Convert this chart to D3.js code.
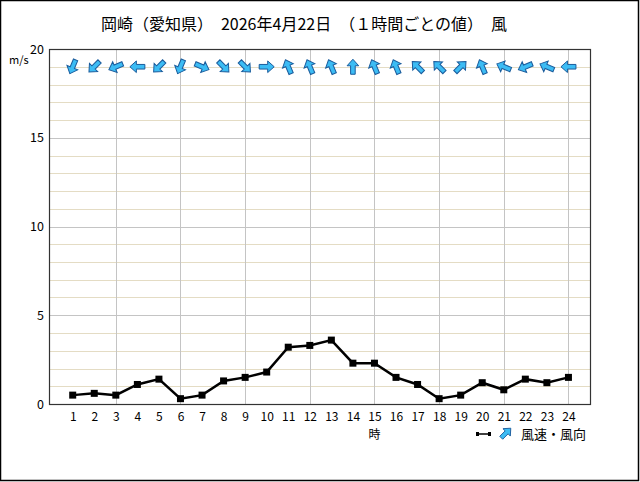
<!DOCTYPE html>
<html>
<head>
<meta charset="utf-8">
<script src="https://cdn.jsdelivr.net/npm/d3@7"></script>
<style>
  body { margin: 0; background: #fff; }
  text { font-family: "Noto Sans CJK JP", "DejaVu Sans", sans-serif; }
</style>
</head>
<body>
<div id="chart"></div>
<script>
// hourly values, Okazaki 2026-04-22
var hours = d3.range(1, 25);
var speed = [0.5, 0.6, 0.5, 1.1, 1.4, 0.3, 0.5, 1.3, 1.5, 1.8, 3.2, 3.3,
             3.6, 2.3, 2.3, 1.5, 1.1, 0.3, 0.5, 1.2, 0.8, 1.4, 1.2, 1.5];
// wind direction (where the wind comes from)
var windDir = ["北北東", "北東", "東北東", "東", "北東", "北北東", "西北西", "北西",
               "北西", "西", "南南東", "南南東", "南南東", "南", "南南東", "南南東",
               "南東", "南東", "南西", "南南東", "東南東", "東北東", "東南東", "東"];
var compass = ["北", "北北東", "北東", "東北東", "東", "東南東", "南東", "南南東",
               "南", "南南西", "南西", "西南西", "西", "西北西", "北西", "北北西"];
var yTicks = [0, 5, 10, 15, 20];
var xTicks = hours;

var W = 640, H = 482;
var pLeft = 49, pRight = 590, pTop = 49, pBottom = 404;

var svg = d3.select("#chart").append("svg")
  .attr("width", W).attr("height", H);

svg.append("rect")
  .attr("x", 0.5).attr("y", 0.5).attr("width", 638).attr("height", 480)
  .attr("fill", "#fff").attr("stroke", "#000").attr("stroke-width", 1.5);

var x = d3.scaleLinear().domain([-0.1, 25]).range([pLeft, pRight]);
var y = d3.scaleLinear().domain([0, 20]).range([pBottom, pTop]);

// title
svg.append("text")
  .attr("x", 304).attr("y", 30)
  .attr("text-anchor", "middle")
  .attr("font-size", 16)
  .text("岡崎（愛知県）　2026年4月22日　（１時間ごとの値）　風");

// grid
var g = svg.append("g");
g.selectAll(".hminor")
  .data(d3.range(1, 20).filter(function(d) { return d % 5 != 0; }))
  .enter().append("line")
  .attr("x1", pLeft).attr("x2", pRight)
  .attr("y1", function(d) { return Math.round(y(d)) + 0.5; })
  .attr("y2", function(d) { return Math.round(y(d)) + 0.5; })
  .attr("stroke", "#e4dcc4");
g.selectAll(".hmajor")
  .data([5, 10, 15])
  .enter().append("line")
  .attr("x1", pLeft).attr("x2", pRight)
  .attr("y1", function(d) { return Math.round(y(d)) + 0.5; })
  .attr("y2", function(d) { return Math.round(y(d)) + 0.5; })
  .attr("stroke", "#c4c4c4");
g.selectAll(".vmajor")
  .data(d3.range(3, 25, 3))
  .enter().append("line")
  .attr("y1", pTop).attr("y2", pBottom)
  .attr("x1", function(d) { return Math.round(x(d)) + 0.5; })
  .attr("x2", function(d) { return Math.round(x(d)) + 0.5; })
  .attr("stroke", "#c4c4c4");

svg.append("rect")
  .attr("x", pLeft + 0.5).attr("y", pTop + 0.5)
  .attr("width", pRight - pLeft).attr("height", pBottom - pTop)
  .attr("fill", "none").attr("stroke", "#333").attr("stroke-width", 1.2);

// axes
var yAxis = svg.append("g")
  .attr("transform", "translate(" + pLeft + ",0)")
  .call(d3.axisLeft(y).tickValues(yTicks).tickSize(0).tickPadding(5));
yAxis.select(".domain").remove();
yAxis.selectAll("text").attr("font-size", 12.5).attr("font-family", "Noto Sans CJK JP").attr("fill", "#000");

var xAxis = svg.append("g")
  .attr("transform", "translate(0," + pBottom + ")")
  .call(d3.axisBottom(x).tickValues(xTicks).tickSize(0).tickPadding(8));
xAxis.select(".domain").remove();
xAxis.selectAll("text").attr("font-size", 12).attr("font-family", "Noto Sans CJK JP").attr("fill", "#000");

svg.append("text")
  .attr("x", 9).attr("y", 64)
  .attr("font-size", 11)
  .text("m/s");
svg.append("text")
  .attr("x", x(15)).attr("y", 439)
  .attr("text-anchor", "middle")
  .attr("font-size", 12)
  .text("時");

// speed line
var line = d3.line()
  .x(function(d, i) { return x(hours[i]); })
  .y(function(d) { return y(d); });
svg.append("path")
  .datum(speed)
  .attr("d", line)
  .attr("fill", "none")
  .attr("stroke", "#000")
  .attr("stroke-width", 2.5);
svg.selectAll(".pt")
  .data(speed)
  .enter().append("rect")
  .attr("x", function(d, i) { return x(hours[i]) - 3.5; })
  .attr("y", function(d) { return y(d) - 3.5; })
  .attr("width", 7).attr("height", 7)
  .attr("fill", "#000");

// wind arrows
var arrowPath = "M0,-7.5 L5.8,-1 L2.3,-1 L2.3,7.5 L-2.3,7.5 L-2.3,-1 L-5.8,-1 Z";
svg.selectAll(".arrow")
  .data(windDir)
  .enter().append("path")
  .attr("d", arrowPath)
  .attr("transform", function(d, i) {
    var ang = compass.indexOf(d) * 22.5 + 180;
    return "translate(" + x(hours[i]) + "," + y(19) + ") rotate(" + ang + ")";
  })
  .attr("fill", "#3cbcf4")
  .attr("stroke", "#1b5c9c")
  .attr("stroke-width", 1);

// legend
var lg = svg.append("g");
lg.append("line")
  .attr("x1", 478).attr("x2", 489).attr("y1", 434).attr("y2", 434)
  .attr("stroke", "#000").attr("stroke-width", 1.5);
lg.append("rect")
  .attr("x", 476).attr("y", 432).attr("width", 3).attr("height", 4);
lg.append("rect")
  .attr("x", 488).attr("y", 432).attr("width", 3).attr("height", 4);
lg.append("path")
  .attr("d", arrowPath)
  .attr("transform", "translate(506,433) rotate(45) scale(0.9)")
  .attr("fill", "#3cbcf4")
  .attr("stroke", "#1b5c9c");
lg.append("text")
  .attr("x", 521).attr("y", 439)
  .attr("font-size", 13)
  .text("風速・風向");
</script>
</body>
</html>
